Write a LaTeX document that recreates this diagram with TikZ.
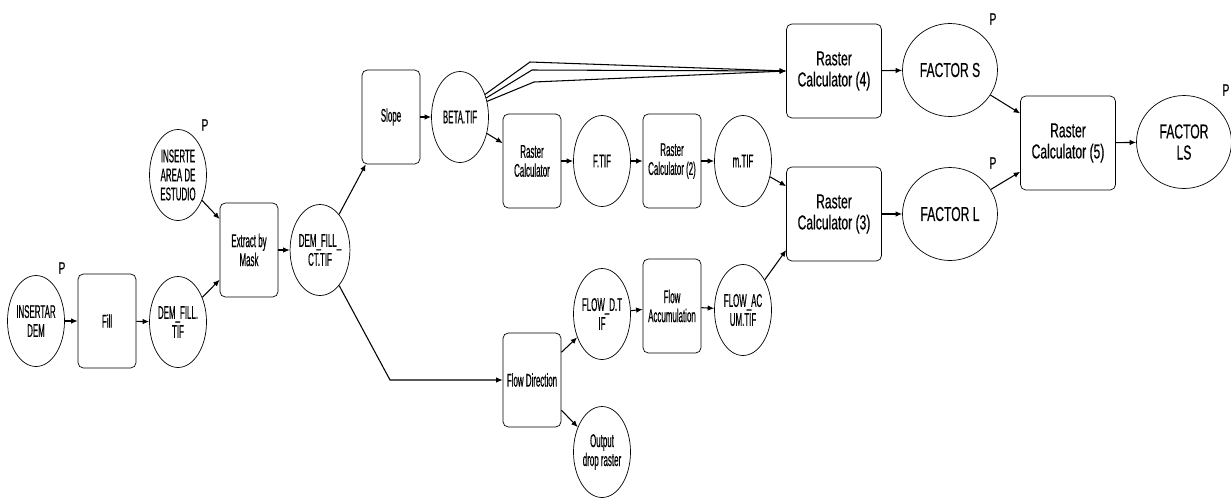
\documentclass[tikz,border=0pt]{standalone}
\usepackage{fontspec}
\setmainfont{Liberation Sans}
\newfontfamily\narrowfont[FakeStretch=0.43,FakeBold=0.4]{Liberation Sans}
\newfontfamily\midfont[FakeStretch=0.6,FakeBold=0.4]{Liberation Sans}
\usepackage{tikz}
\usetikzlibrary{arrows.meta,positioning,shapes.geometric}

\begin{document}
\begin{tikzpicture}[x=0.02cm,y=-0.02cm,
  tool/.style={draw,rounded corners=3pt,inner sep=0pt,minimum width=1.16cm,
    minimum height=1.88cm,align=center,font=\narrowfont\fontsize{10.5}{10.8}\selectfont},
  data/.style={draw,ellipse,inner sep=0pt,minimum width=1.14cm,
    minimum height=1.82cm,align=center,font=\narrowfont\fontsize{10.5}{10.8}\selectfont},
  bigtool/.style={tool,minimum width=1.9cm,font=\midfont\fontsize{11.5}{12}\selectfont},
  bigdata/.style={data,minimum width=1.9cm,minimum height=1.86cm,font=\midfont\fontsize{11.5}{12}\selectfont},
  param/.style={inner sep=0pt,font=\midfont\fontsize{9.5}{10}\selectfont},
  arrow/.style={-{Latex[length=1.3mm,width=1.1mm]},line width=0.6pt}]
\useasboundingbox (0,0) rectangle (1231,498);
% input chain
\node[data] (dem) at (36,321) {INSERTAR\\DEM};
\node[tool] (fill) at (107,321) {Fill};
\node[data] (demfill) at (178,322) {DEM\_FILL.\\TIF};
\node[data] (area) at (178,175) {INSERTE\\AREA DE\\ESTUDIO};
\node[tool] (mask) at (249,250) {Extract by\\Mask};
\node[data] (demct) at (320,250) {DEM\_FILL\_\\CT.TIF};
% slope branch
\node[tool] (slope) at (391,117) {Slope};
\node[data] (beta) at (460,117) {BETA.TIF};
\node[tool] (rc) at (532,161) {Raster\\Calculator};
\node[data] (ftif) at (602,161) {F.TIF};
\node[tool] (rc2) at (672,161) {Raster\\Calculator (2)};
\node[data] (mtif) at (743,161) {m.TIF};
% flow branch
\node[tool] (fdir) at (532,380) {Flow Direction};
\node[data] (flowd) at (602,314) {FLOW\_D.T\\IF};
\node[data] (drop) at (602,452) {Output\\drop raster};
\node[tool] (facc) at (672,306) {Flow\\Accumulation};
\node[data] (flowacum) at (743,310) {FLOW\_AC\\UM.TIF};
% factors
\node[bigtool] (rc4) at (834,71) {Raster\\Calculator (4)};
\node[bigdata] (fs) at (950,70) {FACTOR S};
\node[bigtool] (rc3) at (834,214) {Raster\\Calculator (3)};
\node[bigdata] (fl) at (950,214) {FACTOR L};
\node[bigtool] (rc5) at (1068,143) {Raster\\Calculator (5)};
\node[bigdata] (fls) at (1184,142) {FACTOR\\LS};
% parameters
\node[param] (pdem) at (62,268) {P};
\node[param] (parea) at (205,125) {P};
\node[param] (pfs) at (993,19) {P};
\node[param] (pfl) at (993,163) {P};
\node[param] (pfls) at (1226,90) {P};
% bends
\coordinate (fdbend) at (390,380);
\coordinate (b1) at (530,62);
\coordinate (b2) at (532,70);
\coordinate (b3) at (534,82);

\draw[arrow] (dem)--(fill); \draw[arrow] (fill)--(demfill);
\draw[arrow] (demfill)--(mask); \draw[arrow] (area)--(mask);
\draw[arrow] (mask)--(demct); \draw[arrow] (demct)--(slope);
\draw[arrow] (demct)--(fdbend)--(fdir);
\draw[arrow] (slope)--(beta);
\draw[arrow] (beta.42)--(b1)--(rc4.west);
\draw[arrow] (beta.36)--(b2)--(rc4.west);
\draw[arrow] (beta.30)--(b3)--(rc4.west);
\draw[arrow] (beta)--(rc); \draw[arrow] (rc)--(ftif);
\draw[arrow] (ftif)--(rc2); \draw[arrow] (rc2)--(mtif);
\draw[arrow] (mtif)--(rc3);
\draw[arrow] (fdir)--(flowd); \draw[arrow] (fdir)--(drop);
\draw[arrow] (flowd)--(facc); \draw[arrow] (facc)--(flowacum);
\draw[arrow] (flowacum)--(rc3.217);
\draw[arrow] (rc4)--(fs); \draw[arrow] (rc3)--(fl);
\draw[arrow] (fs)--(rc5); \draw[arrow] (fl)--(rc5);
\draw[arrow] (rc5)--(fls);
\end{tikzpicture}
\end{document}
